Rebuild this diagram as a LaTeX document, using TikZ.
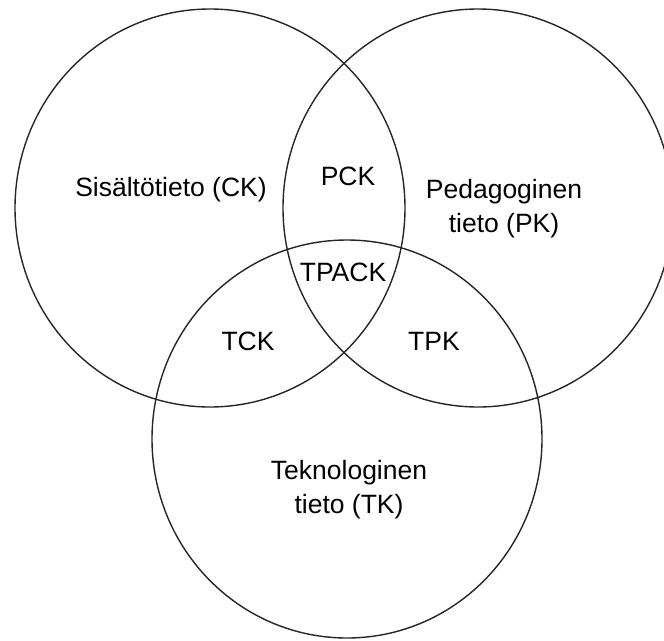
\documentclass[tikz,border=0pt]{standalone}
\usepackage{fontspec}
\setmainfont{Liberation Sans}
\usetikzlibrary{shapes.geometric}
\tikzset{
  venn/.style={draw=black!85, line width=1.4pt, ellipse, inner sep=0pt,
    minimum width=390pt, minimum height=398pt},
  lbl/.style={font=\fontsize{26.5}{34}\selectfont, align=center, inner sep=0pt},
}
\begin{document}
\begin{tikzpicture}[x=1pt,y=-1pt]
\useasboundingbox (0,0) rectangle (664,640);
\clip (0,0) rectangle (664,640);
\fill[white] (0,0) rectangle (664,640);
\node[venn] (ck) at (210,208) {};
\node[venn] (pk) at (478,208) {};
\node[venn] (tk) at (347,439) {};
\node[lbl] (tck) at (171,190) {Sisältötieto (CK)};
\node[lbl] (tpck) at (348,176) {PCK};
\node[lbl] (tpk) at (504,209) {Pedagoginen\\tieto (PK)};
\node[lbl] (ttpack) at (343,272) {TPACK};
\node[lbl] (ttck) at (248,341) {TCK};
\node[lbl] (ttpk) at (434,341) {TPK};
\node[lbl] (ttk) at (349,490) {Teknologinen\\tieto (TK)};
\end{tikzpicture}
\end{document}
